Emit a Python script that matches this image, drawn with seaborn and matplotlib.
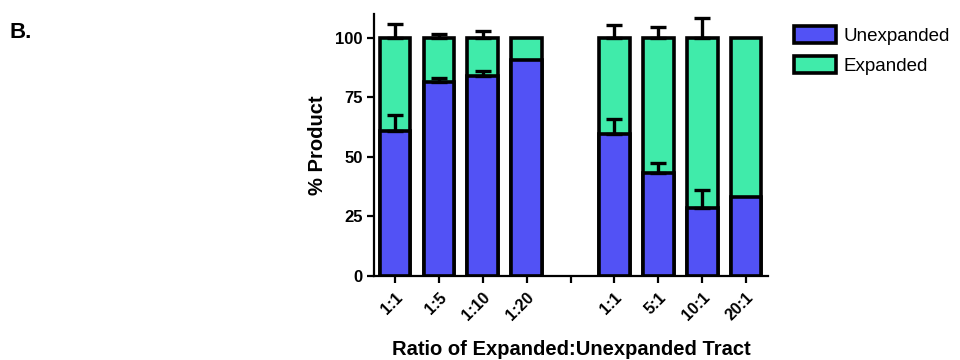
import numpy as np
import pandas as pd
import matplotlib
matplotlib.use("Agg")
import matplotlib.pyplot as plt
import seaborn as sns
from matplotlib.patches import Patch

# data
ratio_labels = ["1:1", "1:5", "1:10", "1:20", "", "1:1", "5:1", "10:1", "20:1"]
unexpanded = [61, 81.5, 84, 90.5, np.nan, 59.7, 43, 28.5, 33]
total = [100, 100, 100, 100, np.nan, 100, 100, 100, 100]
err_unexpanded = [6.5, 1.5, 2, 0, 0, 6, 4.5, 7.5, 0]
err_total = [6, 1.5, 2.8, 0, 0, 5.6, 4.4, 8.4, 0]

blue = "#5252F5"
green = "#40EBAA"

sns.set_style("ticks", {"axes.edgecolor": "black", "text.color": "black",
                        "axes.labelcolor": "black", "xtick.color": "black",
                        "ytick.color": "black"})
plt.rcParams["font.family"] = ["Liberation Sans", "DejaVu Sans"]

keys = [f"c{i}" for i in range(len(ratio_labels))]
df = pd.DataFrame({"key": keys, "unexpanded": unexpanded, "total": total})

fig = plt.figure(figsize=(9.6, 3.6), dpi=100)
ax = fig.add_axes([0.39, 0.234, 0.41, 0.727])

sns.barplot(data=df, x="key", y="total", order=keys, color=green, saturation=1,
            width=0.7, edgecolor="black", linewidth=2.6, ax=ax, errorbar=None)
sns.barplot(data=df, x="key", y="unexpanded", order=keys, color=blue, saturation=1,
            width=0.7, edgecolor="black", linewidth=2.6, ax=ax, errorbar=None)

pos = np.arange(len(keys))
mask = np.array(err_total) > 0
ax.errorbar(pos[mask], np.array(total)[mask],
            yerr=[np.zeros(mask.sum()), np.array(err_total)[mask]],
            fmt="none", ecolor="black", elinewidth=2.4, capsize=6, capthick=2.4, zorder=5)
mask = np.array(err_unexpanded) > 0
ax.errorbar(pos[mask], np.array(unexpanded)[mask],
            yerr=[np.zeros(mask.sum()), np.array(err_unexpanded)[mask]],
            fmt="none", ecolor="black", elinewidth=2.4, capsize=6, capthick=2.4, zorder=5)

ax.set_ylim(0, 110)
ax.set_xlim(-0.47, 8.5)
ax.set_yticks([0, 25, 50, 75, 100])
ax.set_xticks(pos)
ax.set_xticklabels(ratio_labels, rotation=45, ha="right", rotation_mode="anchor",
                   fontweight="bold", fontsize=11.5)
for t in ax.get_yticklabels():
    t.set_fontweight("bold")
    t.set_fontsize(12)
ax.tick_params(axis="both", width=1.6, length=5, direction="out")
ax.tick_params(axis="x", pad=5)
sns.despine(ax=ax)
for s in ["left", "bottom"]:
    ax.spines[s].set_linewidth(1.6)

ax.set_xlabel("Ratio of Expanded:Unexpanded Tract", fontweight="bold", fontsize=14.5,
              labelpad=12)
ax.set_ylabel("% Product", fontweight="bold", fontsize=14.5, labelpad=6)

handles = [Patch(facecolor=blue, edgecolor="black", linewidth=2.6, label="Unexpanded"),
           Patch(facecolor=green, edgecolor="black", linewidth=2.6, label="Expanded")]
fig.legend(handles=handles, loc="upper left", bbox_to_anchor=(0.81, 0.975), frameon=False,
           fontsize=13.5, handlelength=2.2, handleheight=1.0, handletextpad=0.4,
           labelspacing=0.6)

fig.text(0.01, 0.895, "B.", fontsize=16, fontweight="bold")

fig.savefig("out.png", dpi=100)
